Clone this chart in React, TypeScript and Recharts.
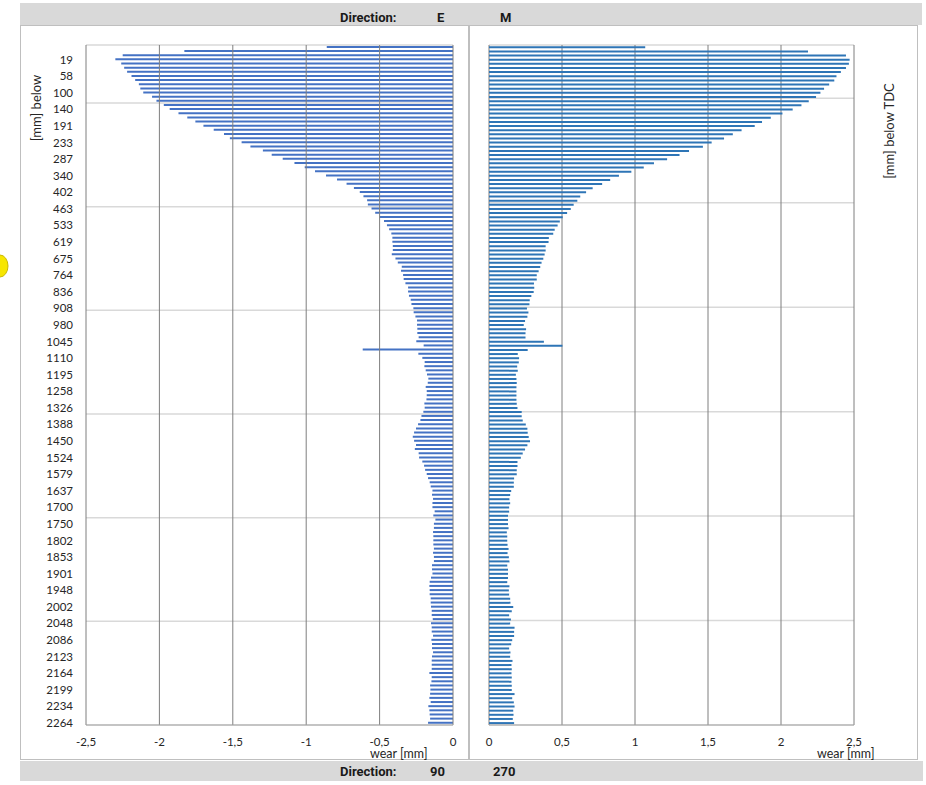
import React from 'react';
import { BarChart, Bar, LineChart, XAxis, YAxis, CartesianGrid } from 'recharts';

// depth labels shown on the category axis (every 4th measurement row)
const depthLabels = ['19','58','100','140','191','233','287','340','402','463','533','619','675','764','836','908','980','1045','1110','1195','1258','1326','1388','1450','1524','1579','1637','1700','1750','1802','1853','1901','1948','2002','2048','2086','2123','2164','2199','2234','2264'];

// wear [mm] at direction 90 (left panel), top row first
const wear90 = [
  -0.86,-1.83,-2.25,-2.30,-2.26,-2.24,-2.22,-2.19,-2.165,-2.14,
  -2.13,-2.11,-2.05,-2.02,-1.97,-1.93,-1.87,-1.81,-1.755,-1.70,
  -1.63,-1.56,-1.52,-1.44,-1.38,-1.295,-1.235,-1.16,-1.08,-1.01,
  -0.94,-0.865,-0.79,-0.725,-0.675,-0.635,-0.61,-0.585,-0.58,-0.555,
  -0.53,-0.5,-0.47,-0.45,-0.435,-0.42,-0.413,-0.413,-0.41,-0.41,
  -0.417,-0.392,-0.376,-0.349,-0.354,-0.34,-0.336,-0.324,-0.306,-0.306,
  -0.30,-0.288,-0.283,-0.27,-0.268,-0.256,-0.245,-0.245,-0.243,-0.243,
  -0.234,-0.25,-0.20,-0.615,-0.236,-0.209,-0.193,-0.195,-0.186,-0.177,
  -0.168,-0.172,-0.186,-0.179,-0.179,-0.181,-0.195,-0.193,-0.202,-0.215,
  -0.222,-0.238,-0.252,-0.265,-0.274,-0.265,-0.252,-0.26,-0.234,-0.231,
  -0.209,-0.197,-0.19,-0.179,-0.17,-0.159,-0.152,-0.14,-0.143,-0.136,
  -0.14,-0.14,-0.125,-0.134,-0.12,-0.13,-0.13,-0.136,-0.134,-0.134,
  -0.134,-0.13,-0.136,-0.13,-0.13,-0.143,-0.143,-0.14,-0.15,-0.159,
  -0.161,-0.159,-0.159,-0.152,-0.152,-0.15,-0.145,-0.145,-0.138,-0.15,
  -0.145,-0.145,-0.136,-0.147,-0.143,-0.143,-0.136,-0.143,-0.145,-0.145,
  -0.145,-0.161,-0.145,-0.147,-0.156,-0.154,-0.156,-0.161,-0.152,-0.168,
  -0.161,-0.159,-0.156,-0.17
];

// wear [mm] at direction 270 (right panel), top row first
const wear270 = [
  1.07,2.185,2.445,2.47,2.465,2.445,2.41,2.38,2.365,2.33,
  2.295,2.27,2.24,2.19,2.14,2.08,2.01,1.93,1.87,1.82,
  1.73,1.67,1.61,1.525,1.465,1.37,1.305,1.22,1.13,1.06,
  0.975,0.89,0.83,0.775,0.71,0.665,0.625,0.605,0.58,0.56,
  0.535,0.505,0.485,0.47,0.45,0.44,0.41,0.408,0.388,0.388,
  0.381,0.372,0.36,0.351,0.34,0.327,0.327,0.308,0.31,0.306,
  0.29,0.279,0.277,0.26,0.27,0.263,0.247,0.238,0.254,0.25,
  0.25,0.376,0.503,0.265,0.197,0.206,0.204,0.193,0.197,0.184,
  0.188,0.19,0.188,0.188,0.188,0.188,0.19,0.195,0.224,0.224,
  0.231,0.252,0.263,0.265,0.272,0.281,0.263,0.247,0.231,0.218,
  0.195,0.195,0.19,0.19,0.172,0.17,0.17,0.152,0.145,0.14,
  0.145,0.138,0.138,0.13,0.13,0.13,0.134,0.122,0.125,0.125,
  0.127,0.134,0.127,0.136,0.14,0.125,0.13,0.13,0.13,0.125,
  0.14,0.136,0.138,0.145,0.147,0.166,0.156,0.138,0.15,0.145,
  0.175,0.172,0.172,0.159,0.152,0.138,0.147,0.145,0.161,0.154,
  0.156,0.154,0.156,0.154,0.156,0.156,0.175,0.159,0.17,0.175,
  0.166,0.168,0.163,0.172
];

const ticks90 = [-2.5, -2, -1.5, -1, -0.5, 0];
const ticks270 = [0, 0.5, 1, 1.5, 2, 2.5];
// background band lines (secondary scale, 0..6)
const bandTicks = [0, 1, 2, 3, 4, 5, 6];

const rows = wear90.map((v, i) => ({ row: i, w90: v, w270: wear270[i] }));
const bandRows = bandTicks.map((v) => ({ v }));

const comma = (v: number) => String(v).replace('.', ',');
const depthFmt = (v: number) => (v % 4 === 3 ? depthLabels[(v - 3) / 4] : '');

const tickStyle = { fontSize: 11.5, fill: '#262626', fontFamily: 'Lato' };

function BandGrid({ width, margin, max }: { width: number; margin: any; max: number }) {
  return (
    <LineChart width={width} height={760} data={bandRows} margin={margin}>
      <XAxis dataKey="v" hide />
      <YAxis type="number" domain={[0, max]} ticks={bandTicks} hide allowDataOverflow />
      <CartesianGrid vertical={false} stroke="#d9d9d9" strokeWidth={1.5} />
    </LineChart>
  );
}

export default function App() {
  return (
    <div style={{ position: 'absolute', left: 0, top: 0, width: 926, height: 785, background: '#fff', fontFamily: 'Lato', overflow: 'hidden' }}>
      <div style={{ position: 'absolute', left: 20, top: 3, width: 902, height: 22, background: '#d9d9d9' }} />
      <div style={{ position: 'absolute', left: 20, top: 761, width: 903, height: 20, background: '#d9d9d9' }} />
      <div style={{ position: 'absolute', left: 20, top: 25, width: 898, height: 735, border: '1px solid #bfbfbf', boxSizing: 'border-box' }} />
      <div style={{ position: 'absolute', left: 468, top: 25, width: 2, height: 735, background: '#bfbfbf' }} />

      <div style={{ position: 'absolute', left: 0, top: 0 }}>
        <BandGrid width={470} margin={{ top: 45, right: 17, bottom: 35, left: 86 }} max={6.56} />
      </div>
      <div style={{ position: 'absolute', left: 470, top: 0 }}>
        <BandGrid width={456} margin={{ top: 45, right: 72, bottom: 35, left: 19 }} max={6.51} />
      </div>

      <div style={{ position: 'absolute', left: 0, top: 0 }}>
        <BarChart layout="vertical" data={rows} width={470} height={760}
          margin={{ top: 45, right: 17, bottom: 5, left: 0 }} barCategoryGap="22%">
          <XAxis type="number" domain={[-2.5, 0]} ticks={ticks90} tickFormatter={comma} height={30}
            axisLine={{ stroke: '#a6a6a6' }} tickLine={false} tickSize={0} tickMargin={13} tick={tickStyle} />
          <YAxis type="category" dataKey="row" width={86} interval={0} tickFormatter={depthFmt}
            axisLine={false} tickLine={false} tickSize={0} tickMargin={13} tick={tickStyle} />
          <Bar dataKey="w90" fill="#4472C4" isAnimationActive={false} />
          <CartesianGrid horizontal={false} stroke="#7f7f7f" zIndex={400} />
        </BarChart>
      </div>

      <div style={{ position: 'absolute', left: 470, top: 0 }}>
        <BarChart layout="vertical" data={rows} width={456} height={760}
          margin={{ top: 45, right: 72, bottom: 5, left: 19 }} barCategoryGap="30%">
          <CartesianGrid horizontal={false} stroke="#7f7f7f" />
          <XAxis type="number" domain={[0, 2.5]} ticks={ticks270} tickFormatter={comma} height={30}
            axisLine={{ stroke: '#a6a6a6' }} tickLine={false} tickSize={0} tickMargin={13} tick={tickStyle} />
          <YAxis type="category" dataKey="row" width={0} tick={false} tickLine={false}
            axisLine={{ stroke: '#d9d9d9', strokeWidth: 2 }} />
          <Bar dataKey="w270" fill="#2E75B6" isAnimationActive={false} />
        </BarChart>
      </div>

      <svg width={926} height={785} style={{ position: 'absolute', left: 0, top: 0, pointerEvents: 'none' }}>
        <ellipse cx={0} cy={266} rx={8} ry={11} fill="#f7e600" stroke="#c9b800" strokeWidth={1} />
        <g fontFamily="Roboto" fontWeight={700} fontSize={13} fill="#1a1a1a">
          <text x={340} y={22}>Direction:</text>
          <text x={437} y={22}>E</text>
          <text x={500} y={22}>M</text>
          <text x={340} y={776}>Direction:</text>
          <text x={430} y={776}>90</text>
          <text x={493} y={776}>270</text>
        </g>
        <g fontFamily="Lato" fontSize={12.5} fill="#262626">
          <text x={370} y={758}>wear [mm]</text>
          <text x={817} y={758}>wear [mm]</text>
        </g>
        <g fontFamily="Lato" fontSize={13} fill="#262626">
          <text x={41} y={108} textAnchor="middle" transform="rotate(-90 41 108)">[mm] below</text>
          <text x={894} y={131} textAnchor="middle" transform="rotate(-90 894 131)">[mm] below TDC</text>
        </g>
      </svg>
    </div>
  );
}
